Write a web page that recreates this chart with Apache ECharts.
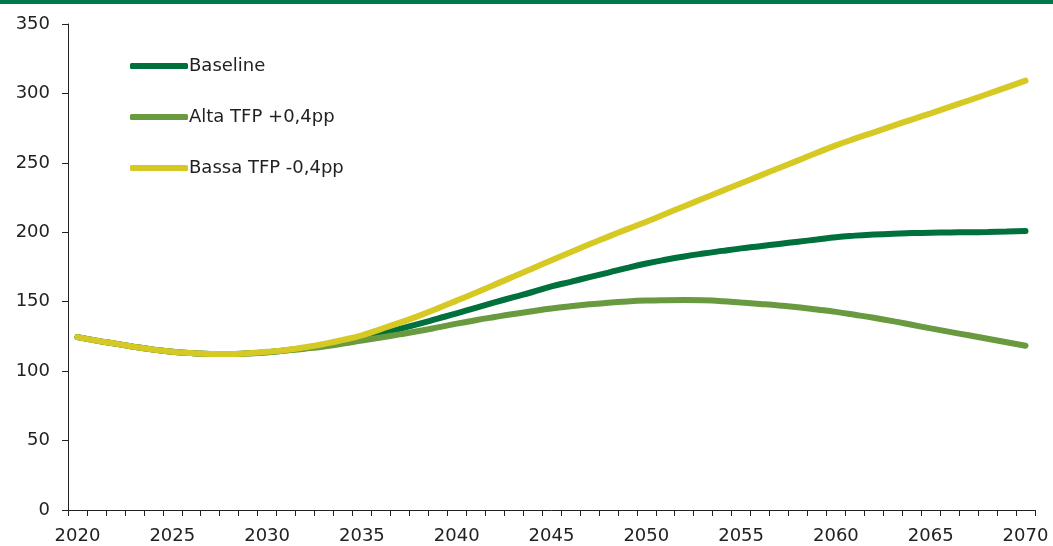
<!DOCTYPE html>
<html>
<head>
<meta charset="utf-8">
<script src="https://cdn.jsdelivr.net/npm/echarts@6/dist/echarts.min.js"></script>
<style>
  html, body { margin: 0; padding: 0; background: #fff; }
  #chart { width: 1053px; height: 546px; }
</style>
</head>
<body>
<div id="chart"></div>
<script>
var years = [];
for (var y = 2020; y <= 2070; y++) years.push(String(y));

var seriesNames = ['Baseline', 'Alta TFP +0,4pp', 'Bassa TFP -0,4pp'];

var baseline = [
  124.5, 122, 119.8, 117.5, 115.5, 114, 113, 112.4, 112.3, 112.8,
  113.7, 115, 116.6, 118.6, 121, 123.8, 127, 130.4, 134, 137.8,
  141.6, 145.6, 149.5, 153.3, 157, 161, 164.3, 167.7, 171, 174.4,
  177.5, 180.2, 182.6, 184.7, 186.6, 188.4, 190, 191.6, 193.2, 194.8,
  196.5, 197.6, 198.4, 199, 199.4, 199.7, 199.9, 200, 200.2, 200.5,
  200.9
];

var alta = [
  124.5, 122, 119.8, 117.5, 115.5, 114, 113, 112.4, 112.3, 112.7,
  113.5, 114.8, 116.2, 117.8, 119.8, 122, 124.2, 126.5, 128.9, 131.5,
  134.2, 136.7, 139, 141.2, 143.2, 145.1, 146.7, 148.1, 149.3, 150.2,
  150.8, 151.1, 151.2, 151, 150.4, 149.4, 148.4, 147.3, 146, 144.4,
  142.7, 140.6, 138.4, 136, 133.4, 130.8, 128.3, 125.8, 123.3, 120.8,
  118.3
];

var bassa = [
  124.5, 122, 119.8, 117.5, 115.5, 114, 113, 112.4, 112.3, 112.9,
  113.9, 115.3, 117.2, 119.6, 122.5, 125.8, 130.3, 134.9, 139.8, 145.2,
  150.8, 156.5, 162.3, 168.1, 174, 179.9, 185.7, 191.4, 196.9, 202.3,
  207.6, 213.2, 218.8, 224.3, 229.8, 235.3, 240.8, 246.3, 251.8, 257.3,
  262.6, 267.4, 272, 276.6, 281.2, 285.7, 290.3, 294.9, 299.6, 304.4,
  309.2
];

var colors = ['#00703C', '#6A9A3F', '#D6C923'];

var myChart = echarts.init(document.getElementById('chart'));
myChart.setOption({
  animation: false,
  color: colors,
  textStyle: { fontFamily: 'DejaVu Sans' },
  graphic: [
    {
      type: 'rect',
      left: 0, top: 0,
      shape: { width: 1053, height: 4 },
      style: { fill: '#00784A' }
    }
  ],
  grid: {
    left: 68,
    right: 18,
    top: 24,
    bottom: 36
  },
  legend: {
    orient: 'vertical',
    left: 125,
    top: 51,
    itemWidth: 58,
    itemHeight: 6,
    itemGap: 31,
    icon: 'roundRect',
    textStyle: { fontSize: 18, lineHeight: 20, color: '#222', padding: [0, 0, 0, -4] },
    data: seriesNames
  },
  xAxis: {
    type: 'category',
    data: years,
    boundaryGap: true,
    axisLine: { lineStyle: { color: '#222', width: 1 } },
    axisTick: { show: true, interval: 0, length: 6, lineStyle: { color: '#222' } },
    axisLabel: { interval: 4, color: '#222', fontSize: 18, margin: 17 },
    splitLine: { show: false }
  },
  yAxis: {
    type: 'value',
    min: 0,
    max: 350,
    interval: 50,
    axisLine: { show: true, lineStyle: { color: '#222', width: 1 } },
    axisTick: { show: true, length: 6, lineStyle: { color: '#222' } },
    axisLabel: { color: '#222', fontSize: 18, margin: 18 },
    splitLine: { show: false }
  },
  series: [
    {
      name: seriesNames[0],
      type: 'line',
      data: baseline,
      smooth: true,
      symbol: 'none',
      lineStyle: { width: 6, cap: 'round' }
    },
    {
      name: seriesNames[1],
      type: 'line',
      data: alta,
      smooth: true,
      symbol: 'none',
      lineStyle: { width: 6, cap: 'round' }
    },
    {
      name: seriesNames[2],
      type: 'line',
      data: bassa,
      smooth: true,
      symbol: 'none',
      lineStyle: { width: 6, cap: 'round' }
    }
  ]
});
</script>
</body>
</html>
